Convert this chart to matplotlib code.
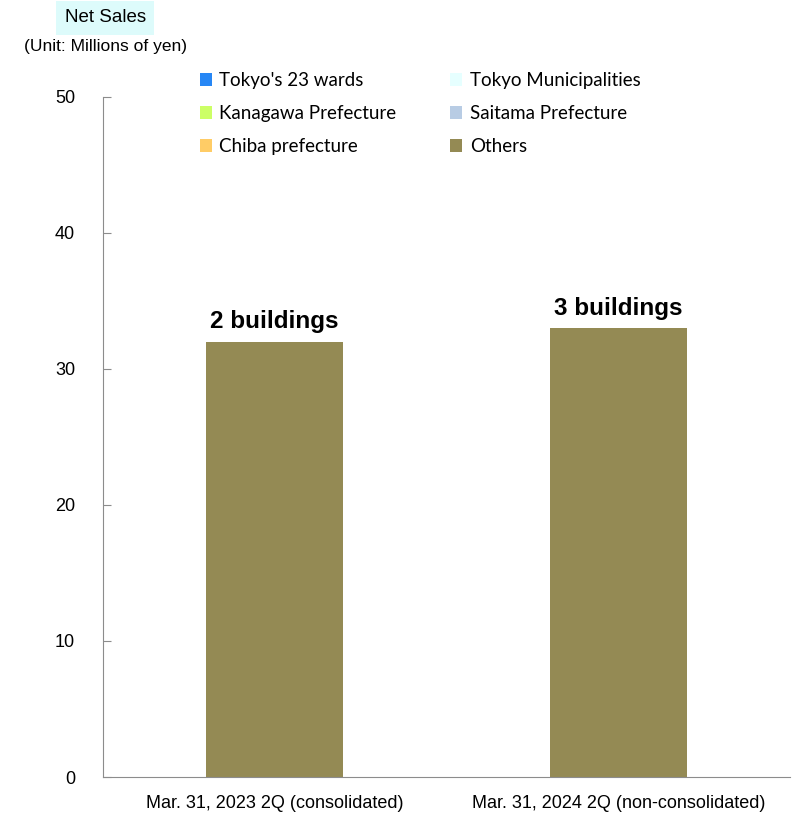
import matplotlib
matplotlib.use("Agg")
import matplotlib.pyplot as plt
from matplotlib.patches import Patch

# === Data ===
periods = ["Mar. 31, 2023 2Q (consolidated)", "Mar. 31, 2024 2Q (non-consolidated)"]
others_sales = [32, 33]
bar_labels = ["2 buildings", "3 buildings"]
legend_names = ["Tokyo's 23 wards", "Kanagawa Prefecture", "Chiba prefecture",
                "Tokyo Municipalities", "Saitama Prefecture", "Others"]
legend_colors = ["#2787F5", "#CCFF66", "#FFCC66", "#E6FFFF", "#B8CCE4", "#948A54"]
y_ticks = [0, 10, 20, 30, 40, 50]

narrow = ["Liberation Sans Narrow", "Liberation Sans", "DejaVu Sans"]
legend_font = ["Lato", "DejaVu Sans"]
axis_gray = "#8C8C8C"

fig = plt.figure(figsize=(7.98, 8.18), dpi=100)
ax = fig.add_axes([0.129, 0.050, 0.861, 0.832])

x = list(range(len(periods)))
bars = ax.bar(x, others_sales, width=0.4, color="#948A54", zorder=2)

for b, lab in zip(bars, bar_labels):
    ax.annotate(lab, (b.get_x() + b.get_width() / 2, b.get_height()),
                xytext=(0, 6), textcoords="offset points", ha="center", va="bottom",
                fontsize=17.5, fontweight="bold", family=narrow)

ax.set_xlim(-0.5, 1.5)
ax.set_ylim(0, 50)
ax.set_yticks(y_ticks)
ax.set_xticks(x)
ax.set_xticklabels(periods, family=narrow, fontsize=13)
for t in ax.get_yticklabels():
    t.set_family(narrow)
    t.set_fontsize(13)

ax.spines["top"].set_visible(False)
ax.spines["right"].set_visible(False)
ax.spines["left"].set_color(axis_gray)
ax.spines["bottom"].set_color(axis_gray)
ax.tick_params(axis="y", direction="in", length=6, color=axis_gray, pad=20)
ax.tick_params(axis="x", length=0, pad=13)

# legend
handles = [Patch(facecolor=c, edgecolor="none") for c in legend_colors]
fig.legend(handles, legend_names, ncol=2, loc="upper left",
           bbox_to_anchor=(0.250, 0.912), frameon=False,
           prop={"family": legend_font, "size": 13.5},
           handlelength=0.65, handleheight=0.65, handletextpad=0.4,
           labelspacing=0.86, columnspacing=2.87, borderaxespad=0, borderpad=0)

# headers
fig.text(0.132, 0.978, "Net Sales", ha="center", va="center", family=narrow, fontsize=13.5,
         bbox=dict(boxstyle="square,pad=0.45", facecolor="#DDFBFB", edgecolor="none"))
fig.text(0.132, 0.943, "(Unit: Millions of yen)", ha="center", va="center",
         family=narrow, fontsize=12.5)

fig.savefig("out.png", dpi=100)
